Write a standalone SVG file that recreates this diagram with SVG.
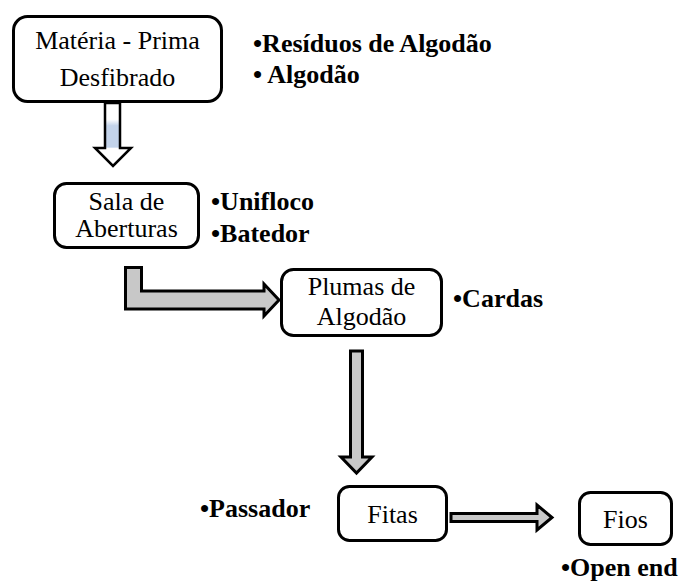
<svg xmlns="http://www.w3.org/2000/svg" width="685" height="582" viewBox="0 0 685 582">
<defs>
<linearGradient id="blueShaft" x1="0" y1="0" x2="0" y2="1">
<stop offset="0" stop-color="#ffffff"/>
<stop offset="0.26" stop-color="#ffffff"/>
<stop offset="0.36" stop-color="#c3d3ea"/>
<stop offset="0.70" stop-color="#c3d3ea"/>
<stop offset="0.72" stop-color="#ffffff"/>
<stop offset="1" stop-color="#ffffff"/>
</linearGradient>
</defs>
<style>
.box{fill:#ffffff;stroke:#000000;stroke-width:3}
.lbl{font-family:'Liberation Serif','Times New Roman',serif;font-size:26px;fill:#000000;text-anchor:middle}
.bul{font-family:'Liberation Serif','Times New Roman',serif;font-size:26px;font-weight:bold;fill:#000000}
.arr{fill:#c8c8c8;stroke:#000000;stroke-width:3;stroke-linejoin:miter}
</style>
<rect width="685" height="582" fill="#ffffff"/>

<g id="connectors">
<polygon points="105,103 120,103 120,148 131,148 113,166 95,148 105,148" fill="url(#blueShaft)" stroke="#000000" stroke-width="2.5"/>
<polygon class="arr" points="125.5,267.5 141.5,267.5 141.5,291 264,291 264,284 279,300 264,316 264,309 125.5,309"/>
<polygon class="arr" points="350.5,351 362.5,351 362.5,457 372,457 356.5,473 341,457 350.5,457"/>
<polygon class="arr" points="451,513.5 537,513.5 537,505 552,517.5 537,530 537,521.5 451,521.5"/>
</g>

<g id="materia-prima">
<rect class="box" x="13.5" y="16.5" width="208" height="85" rx="14"/>
<text class="lbl" x="117.5" y="49">Matéria - Prima</text>
<text class="lbl" x="117.5" y="86">Desfibrado</text>
</g>
<g id="materia-notes">
<text class="bul" x="253" y="52">•Resíduos de Algodão</text>
<text class="bul" x="253" y="83">• Algodão</text>
</g>

<g id="sala-aberturas">
<rect class="box" x="54.5" y="183.5" width="144" height="64" rx="12"/>
<text class="lbl" x="126.5" y="210">Sala de</text>
<text class="lbl" x="126.5" y="237">Aberturas</text>
</g>
<g id="sala-notes">
<text class="bul" x="211" y="210">•Unifloco</text>
<text class="bul" x="211" y="242">•Batedor</text>
</g>

<g id="plumas">
<rect class="box" x="281.5" y="269.5" width="160" height="66" rx="12"/>
<text class="lbl" x="361.5" y="295">Plumas de</text>
<text class="lbl" x="361.5" y="325">Algodão</text>
</g>
<g id="plumas-notes">
<text class="bul" x="453" y="307">•Cardas</text>
</g>

<g id="fitas">
<rect class="box" x="338.5" y="486.5" width="108" height="54" rx="11"/>
<text class="lbl" x="392.5" y="523">Fitas</text>
</g>
<g id="fitas-notes">
<text class="bul" x="200" y="517">•Passador</text>
</g>

<g id="fios">
<rect class="box" x="579.5" y="492.5" width="92" height="52" rx="11"/>
<text class="lbl" x="625.5" y="528">Fios</text>
</g>
<g id="fios-notes">
<text class="bul" x="561" y="576">•Open end</text>
</g>
</svg>
